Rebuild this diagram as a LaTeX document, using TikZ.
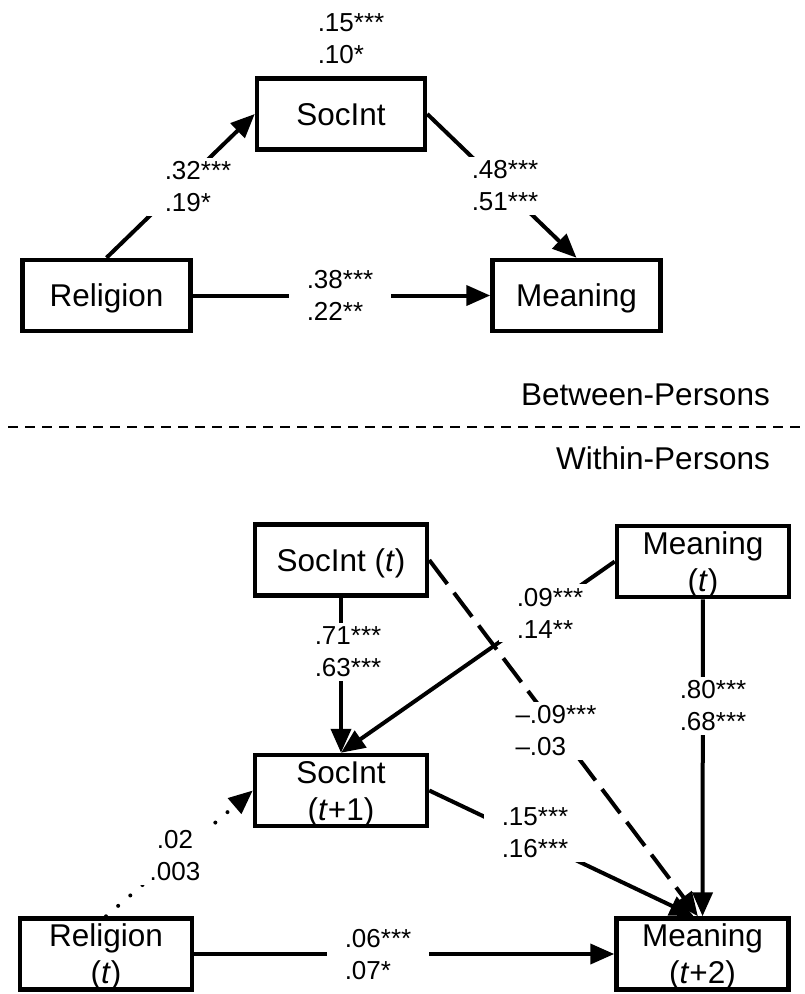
\documentclass[tikz,border=0pt]{standalone}
\usepackage{fontspec}
\setmainfont{Liberation Sans}
\usetikzlibrary{arrows.meta}

\begin{document}
\begin{tikzpicture}[x=1pt,y=-1pt,
  varbox/.style={draw, line width=4.5pt, minimum width=168pt, minimum height=71pt, inner sep=0pt, text depth=0pt, align=center, font=\fontsize{31.5}{37}\selectfont},
  coef/.style={fill=white, inner xsep=18pt, inner ysep=4pt, align=left, font=\fontsize{26}{32}\selectfont},
  effect/.style={line width=4pt, -{Triangle[length=24pt,width=20pt]}},
  group/.style={anchor=east, inner sep=0pt, font=\fontsize{31.5}{38}\selectfont}]
\useasboundingbox (0,0) rectangle (804,994);
% between-persons model
\node[varbox] (soc) at (341,114) {SocInt};
\node[varbox] (rel) at (106.5,295.5) {Religion};
\node[varbox] (mean) at (576.5,295.5) {Meaning};
\draw[effect] (rel.north) -- (soc.west);
\draw[effect] (soc.east) -- (mean.north);
\draw[effect] (rel.east) -- (mean.west);
\node[coef] (c_soc) at (351,39) {.15***\\.10*};
\node[coef] (c_relsoc) at (198,187) {.32***\\.19*};
\node[coef] (c_socmean) at (505,186) {.48***\\.51***};
\node[coef] (c_relmean) at (340,295) {.38***\\.22**};
% divider
\draw[line width=1.4pt, dash pattern=on 10pt off 7pt] (8,427) -- (804,427);
\node[group] (between) at (770,395) {Between-Persons};
\node[group] (within) at (770,458) {Within-Persons};
% within-persons model
\node[varbox, minimum width=172pt] (soct) at (341,560) {SocInt (\textit{t})};
\node[varbox, minimum width=172pt] (meant) at (703,561.5) {Meaning\\(\textit{t})};
\node[varbox, minimum width=172pt] (soct1) at (341,790.5) {SocInt\\(\textit{t}+1)};
\node[varbox, minimum width=172pt] (relt) at (106,954) {Religion\\(\textit{t})};
\node[varbox, minimum width=172pt] (meant2) at (702.5,954) {Meaning\\(\textit{t}+2)};
\draw[effect] (soct) -- (soct1);
\draw[effect] (meant.west) -- (soct1.north);
\draw[effect, dash pattern=on 30pt off 11pt] (soct.east) -- (meant2.97);
\draw[effect] (soct1.east) -- (meant2.103);
\draw[effect] (meant) -- (meant2);
\draw[effect, line cap=round, dash pattern=on 0pt off 16pt] (relt.north) -- (soct1.west);
\draw[effect] (relt) -- (meant2);
\node[coef] (c_socsoc) at (348,652) {.71***\\.63***};
\node[coef] (c_meansoc) at (550,613) {.09***\\.14**};
\node[coef] (c_socmean2) at (556,731) {–.09***\\–.03};
\node[coef] (c_soc1mean) at (535,833) {.15***\\.16***};
\node[coef] (c_meanmean) at (713,706) {.80***\\.68***};
\node[coef, align=center] (c_relsoc1) at (175,856) {.02\\.003};
\node[coef] (c_relmean2) at (378,955) {.06***\\.07*};
\end{tikzpicture}
\end{document}
